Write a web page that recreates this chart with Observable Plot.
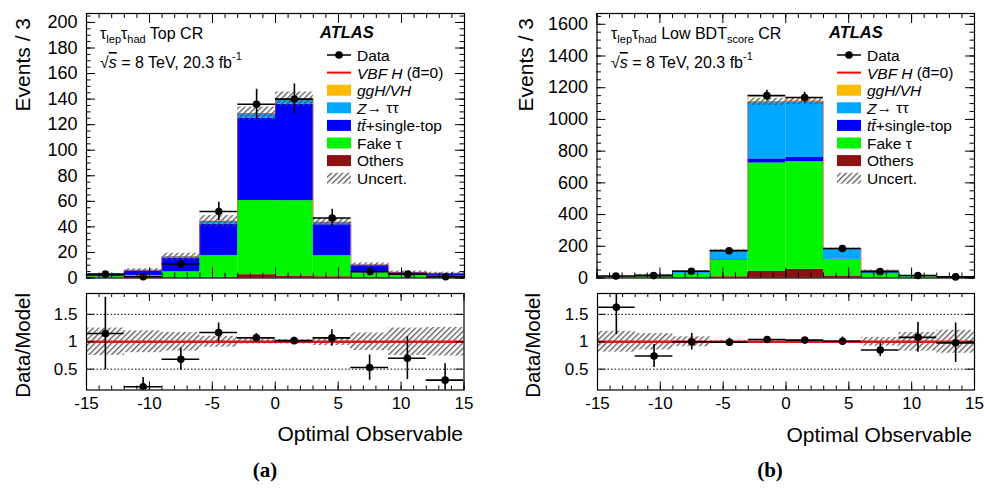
<!DOCTYPE html>
<html>
<head>
<meta charset="utf-8">
<script src="https://cdn.jsdelivr.net/npm/d3@7"></script>
<script src="https://cdn.jsdelivr.net/npm/@observablehq/plot@0.6"></script>
<style>
  html, body { margin: 0; padding: 0; background: #fff; }
  #root { position: relative; width: 984px; height: 490px; overflow: hidden; background: #fff;
          font-family: "Liberation Sans", Arial, Helvetica, sans-serif; }
  .pane { position: absolute; }
  .pane svg { display: block; }
  #overlay { position: absolute; left: 0; top: 0; pointer-events: none; }
</style>
</head>
<body>
<div id="root"></div>
<script>
// ---------- shared binning / styling data ----------
const binEdges = [-15, -12, -9, -6, -3, 0, 3, 6, 9, 12, 15];
const components = ["Others", "Fake τ", "tt̄+single-top", "Z→ττ", "ggH/VH"];
const componentColors = ["#8c1111", "#00f500", "#0000ff", "#00a8ff", "#ffbb00"];
const xMajorTicks = [-15, -10, -5, 0, 5, 10, 15];
const xMinorTicks = [-15,-14,-13,-12,-11,-10,-9,-8,-7,-6,-5,-4,-3,-2,-1,0,1,2,3,4,5,6,7,8,9,10,11,12,13,14,15];
const ratioTicks = [0.5, 1, 1.5];

// ---------- panel (a): tau_lep tau_had Top CR ----------
const othersA = [0.1, 0.2, 0.3, 0.5, 2.6, 1.5, 1.0, 0.3, 0.1, 0.1];
const fakeA   = [0.9, 1.8, 4.5, 17.0, 58.0, 59.0, 16.4, 3.9, 1.9, 1.3];
const topA    = [1.4, 3.6, 10.7, 24.5, 64.4, 75.5, 24.3, 5.5, 2.2, 2.0];
const zttA    = [0.2, 0.4, 1.0, 2.3, 3.5, 3.8, 1.8, 0.5, 0.2, 0.2];
const gghA    = [0.0, 0.0, 0.05, 0.1, 0.2, 0.2, 0.1, 0.0, 0.0, 0.0];
const dataA    = [3, 1, 11, 52, 136, 140, 47, 5, 3, 1];
const dataErrA = [1.7, 1.0, 3.3, 7.2, 11.7, 11.9, 6.9, 2.2, 1.7, 1.0];
const uncertA  = [0.25, 0.20, 0.17, 0.10, 0.04, 0.04, 0.07, 0.16, 0.25, 0.26];
const ratioA    = [1.15, 0.18, 0.68, 1.17, 1.07, 1.02, 1.07, 0.53, 0.70, 0.30];
const ratioErrA = [0.66, 0.17, 0.20, 0.17, 0.08, 0.06, 0.15, 0.23, 0.39, 0.30];
const yMajorA = [0, 20, 40, 60, 80, 100, 120, 140, 160, 180, 200];
const yMinorA = d3.range(0, 207, 5);
const yDomainA = [0, 207];

// ---------- panel (b): tau_lep tau_had Low BDT_score CR ----------
const othersB = [1, 1, 2, 8, 42, 55, 13, 2, 1, 0.5];
const fakeB   = [3, 9, 20, 103, 683, 678, 104, 23, 8, 3.5];
const topB    = [0.5, 1, 2, 4, 26, 27, 3, 2, 1, 0.5];
const zttB    = [3.5, 9, 19, 60, 355, 350, 64, 20, 5, 2.5];
const gghB    = [0, 0, 0, 0.5, 5, 5, 0.5, 0, 0, 0];
const dataB    = [13, 15, 43, 172, 1150, 1138, 186, 40, 16, 7];
const dataErrB = [3.6, 3.9, 6.6, 13.1, 33.9, 33.7, 13.6, 6.3, 4.0, 2.6];
const uncertB  = [0.19, 0.15, 0.09, 0.02, 0.02, 0.02, 0.02, 0.08, 0.17, 0.21];
const ratioB    = [1.63, 0.74, 1.00, 0.99, 1.04, 1.03, 1.01, 0.85, 1.08, 0.98];
const ratioErrB = [0.50, 0.21, 0.15, 0.075, 0.035, 0.035, 0.075, 0.12, 0.27, 0.36];
const yMajorB = [0, 200, 400, 600, 800, 1000, 1200, 1400, 1600];
const yMinorB = d3.range(0, 1668, 50);
const yDomainB = [0, 1668];

const FONT = '"Liberation Sans", Arial, Helvetica, sans-serif';

function binsOf() {
  return binEdges.slice(0, -1).map((lo, i) => ({ i, x1: lo, x2: binEdges[i + 1], xc: (lo + binEdges[i + 1]) / 2 }));
}

function tickMarks(fw, fh, xMajLen, xMinLen, yMaj, yMin, yMajLen, yMinLen) {
  const m = [];
  m.push(Plot.tickX(xMinorTicks, { x: d => d, insetTop: fh - xMinLen, strokeWidth: 1 }));
  m.push(Plot.tickX(xMinorTicks, { x: d => d, insetBottom: fh - xMinLen, strokeWidth: 1 }));
  m.push(Plot.tickX(xMajorTicks, { x: d => d, insetTop: fh - xMajLen, strokeWidth: 1 }));
  m.push(Plot.tickX(xMajorTicks, { x: d => d, insetBottom: fh - xMajLen, strokeWidth: 1 }));
  if (yMin) {
    m.push(Plot.tickY(yMin, { y: d => d, insetRight: fw - yMinLen, strokeWidth: 1 }));
    m.push(Plot.tickY(yMin, { y: d => d, insetLeft: fw - yMinLen, strokeWidth: 1 }));
  }
  m.push(Plot.tickY(yMaj, { y: d => d, insetRight: fw - yMajLen, strokeWidth: 1 }));
  m.push(Plot.tickY(yMaj, { y: d => d, insetLeft: fw - yMajLen, strokeWidth: 1 }));
  return m;
}

function buildMain(cfg) {
  const { comps, data, dataErr, uncert, yDomain, yMajor, yMinor, width, marginLeft, marginRight } = cfg;
  const H = 290, mt = 13, mb = 12.5;
  const fw = width - marginLeft - marginRight, fh = H - mt - mb;
  const bins = binsOf();
  const rows = [];
  components.forEach((c, k) => bins.forEach((b, i) => rows.push({ ...b, comp: c, v: comps[k][i] })));
  const totals = bins.map((b, i) => d3.sum(comps, s => s[i]));
  const band = bins.map((b, i) => ({ ...b, lo: totals[i] * (1 - uncert[i]), hi: totals[i] * (1 + uncert[i]) }));
  const step = [{ x: binEdges[0], y: 0 }];
  bins.forEach((b, i) => { step.push({ x: b.x1, y: totals[i] }, { x: b.x2, y: totals[i] }); });
  step.push({ x: binEdges[binEdges.length - 1], y: 0 });
  const pts = bins.map((b, i) => ({ ...b, v: data[i], e: dataErr[i] }));
  return Plot.plot({
    width, height: H, marginLeft, marginRight, marginTop: mt, marginBottom: mb,
    style: { fontFamily: FONT, background: "transparent", overflow: "visible", color: "black" },
    x: { domain: [-15, 15], axis: null },
    y: { domain: yDomain, axis: null },
    color: { domain: components, range: componentColors },
    marks: [
      Plot.rectY(rows, { x1: "x1", x2: "x2", y: "v", fill: "comp", order: components }),
      Plot.rect(band, { x1: "x1", x2: "x2", y1: "lo", y2: "hi", fill: "url(#hatch)" }),
      Plot.line(step, { x: "x", y: "y", stroke: "#ff3030", strokeWidth: 1, strokeOpacity: 0.55 }),
      Plot.ruleY(pts, { y: "v", x1: "x1", x2: "x2", stroke: "black", strokeWidth: 1.6 }),
      Plot.ruleX(pts, { x: "xc", y1: d => d.v - d.e, y2: d => d.v + d.e, stroke: "black", strokeWidth: 1.6 }),
      Plot.dot(pts, { x: "xc", y: "v", r: 3.8, fill: "black", stroke: "none" }),
      ...tickMarks(fw, fh, 10, 5, yMajor, yMinor, 9, 4.5),
      Plot.axisY({ ticks: yMajor, tickSize: 0, tickPadding: 9, fontSize: 18, label: null, tickFormat: d => String(d) }),
      Plot.frame({ stroke: "black", strokeWidth: 1.2 })
    ]
  });
}

function buildRatio(cfg) {
  const { ratio, ratioErr, uncert, width, marginLeft, marginRight } = cfg;
  const H = 130, mt = 3, mb = 30.5;
  const fw = width - marginLeft - marginRight, fh = H - mt - mb;
  const bins = binsOf();
  const band = bins.map((b, i) => ({ ...b, lo: 1 - uncert[i], hi: 1 + uncert[i] }));
  const pts = bins.map((b, i) => ({ ...b, v: ratio[i], e: ratioErr[i] }));
  return Plot.plot({
    width, height: H, marginLeft, marginRight, marginTop: mt, marginBottom: mb,
    style: { fontFamily: FONT, background: "transparent", overflow: "visible", color: "black" },
    x: { domain: [-15, 15], axis: null },
    y: { domain: [0.12, 1.88], axis: null },
    marks: [
      Plot.rect(band, { x1: "x1", x2: "x2", y1: "lo", y2: "hi", fill: "url(#hatch)" }),
      Plot.ruleY([0.5, 1.5], { y: d => d, stroke: "black", strokeWidth: 1, strokeDasharray: "1.5,2" }),
      Plot.ruleY([1], { y: d => d, stroke: "#e01515", strokeWidth: 2.5 }),
      Plot.ruleY(pts, { y: "v", x1: "x1", x2: "x2", stroke: "black", strokeWidth: 1.6, clip: true }),
      Plot.ruleX(pts, { x: "xc", y1: d => d.v - d.e, y2: d => d.v + d.e, stroke: "black", strokeWidth: 1.6, clip: true }),
      Plot.dot(pts, { x: "xc", y: "v", r: 3.8, fill: "black", stroke: "none", clip: true }),
      ...tickMarks(fw, fh, 8, 4, ratioTicks, null, 8, 4),
      Plot.axisY({ ticks: ratioTicks, tickSize: 0, tickPadding: 9, fontSize: 17, label: null, tickFormat: d => String(d) }),
      Plot.axisX({ ticks: xMajorTicks, tickSize: 0, tickPadding: 7, fontSize: 17, label: null, tickFormat: d => String(d) }),
      Plot.frame({ stroke: "black", strokeWidth: 1.2 })
    ]
  });
}

const root = document.getElementById("root");
function place(node, left, top) {
  const d = document.createElement("div");
  d.className = "pane";
  d.style.left = left + "px";
  d.style.top = top + "px";
  d.appendChild(node);
  root.appendChild(d);
}

place(buildMain({ comps: [othersA, fakeA, topA, zttA, gghA], data: dataA, dataErr: dataErrA, uncert: uncertA,
  yDomain: yDomainA, yMajor: yMajorA, yMinor: yMinorA, width: 480, marginLeft: 86, marginRight: 16 }), 0, 0);
place(buildRatio({ ratio: ratioA, ratioErr: ratioErrA, uncert: uncertA, width: 480, marginLeft: 86, marginRight: 16.5 }), 0, 290);
place(buildMain({ comps: [othersB, fakeB, topB, zttB, gghB], data: dataB, dataErr: dataErrB, uncert: uncertB,
  yDomain: yDomainB, yMajor: yMajorB, yMinor: yMinorB, width: 484, marginLeft: 96.5, marginRight: 10 }), 500, 0);
place(buildRatio({ ratio: ratioB, ratioErr: ratioErrB, uncert: uncertB, width: 484, marginLeft: 97, marginRight: 10 }), 500, 290);

// ---------- overlay: titles, labels, legends ----------
const legendRows = [
  { kind: "data", html: "Data" },
  { kind: "line", color: "#ff0000", html: '<tspan font-style="italic">VBF H</tspan> (d̃=0)' },
  { kind: "box", color: componentColors[4], html: '<tspan font-style="italic">ggH/VH</tspan>' },
  { kind: "box", color: componentColors[3], html: '<tspan font-style="italic">Z</tspan>→ ττ' },
  { kind: "box", color: componentColors[2], html: '<tspan font-style="italic">tt̄</tspan>+single-top' },
  { kind: "box", color: componentColors[1], html: "Fake τ" },
  { kind: "box", color: componentColors[0], html: "Others" },
  { kind: "hatch", html: "Uncert." }
];

function legendSvg(sx, tx) {
  let s = "";
  legendRows.forEach((r, i) => {
    const y = 55 + i * 17.6;
    if (r.kind === "data") {
      s += `<line x1="${sx}" x2="${sx + 24}" y1="${y}" y2="${y}" stroke="black" stroke-width="1.5"/>`;
      s += `<circle cx="${sx + 12}" cy="${y}" r="3.8" fill="black"/>`;
    } else if (r.kind === "line") {
      s += `<line x1="${sx}" x2="${sx + 24}" y1="${y}" y2="${y}" stroke="${r.color}" stroke-width="2"/>`;
    } else if (r.kind === "box") {
      s += `<rect x="${sx}" y="${y - 5.5}" width="24" height="11" fill="${r.color}"/>`;
    } else {
      s += `<rect x="${sx}" y="${y - 5.5}" width="24" height="11" fill="url(#hatch)"/>`;
    }
    s += `<text x="${tx}" y="${y}" dominant-baseline="central" font-size="15.5">${r.html}</text>`;
  });
  return s;
}

const sub = t => `<tspan baseline-shift="sub" font-size="11">${t}</tspan>`;
const sqrtS = `√<tspan font-style="italic" text-decoration="overline">s</tspan> = 8 TeV, 20.3 fb<tspan baseline-shift="super" font-size="11">-1</tspan>`;

const overlay = `
<svg id="overlay" width="984" height="490" xmlns="http://www.w3.org/2000/svg" font-family='${FONT}'>
  <defs>
    <pattern id="hatch" patternUnits="userSpaceOnUse" width="4" height="4" patternTransform="rotate(45)">
      <line x1="0.7" y1="0" x2="0.7" y2="4" stroke="#4a4a4a" stroke-width="1.2"/>
    </pattern>
  </defs>
  <!-- panel a -->
  <text transform="translate(22,18) rotate(-90)" text-anchor="end" dominant-baseline="central" font-size="21">Events / 3</text>
  <text transform="translate(22,293) rotate(-90)" text-anchor="end" dominant-baseline="central" font-size="20.5">Data/Model</text>
  <text x="463" y="433" text-anchor="end" dominant-baseline="central" font-size="21">Optimal Observable</text>
  <text x="265" y="470" text-anchor="middle" dominant-baseline="central" font-size="21" font-weight="bold" font-family='"Liberation Serif","Times New Roman",serif'>(a)</text>
  <text x="100" y="33" dominant-baseline="central" font-size="16">τ${sub("lep")}τ${sub("had")} Top CR</text>
  <text x="100" y="62" dominant-baseline="central" font-size="16">${sqrtS}</text>
  <text x="320" y="32" dominant-baseline="central" font-size="16.5" font-weight="bold" font-style="italic">ATLAS</text>
  ${legendSvg(327, 357)}
  <!-- panel b -->
  <text transform="translate(525,18) rotate(-90)" text-anchor="end" dominant-baseline="central" font-size="21">Events / 3</text>
  <text transform="translate(532,293) rotate(-90)" text-anchor="end" dominant-baseline="central" font-size="20.5">Data/Model</text>
  <text x="972" y="434" text-anchor="end" dominant-baseline="central" font-size="21">Optimal Observable</text>
  <text x="770" y="470" text-anchor="middle" dominant-baseline="central" font-size="21" font-weight="bold" font-family='"Liberation Serif","Times New Roman",serif'>(b)</text>
  <text x="611" y="33" dominant-baseline="central" font-size="16">τ${sub("lep")}τ${sub("had")} Low BDT${sub("score")} CR</text>
  <text x="611" y="62" dominant-baseline="central" font-size="16">${sqrtS}</text>
  <text x="829" y="32" dominant-baseline="central" font-size="16.5" font-weight="bold" font-style="italic">ATLAS</text>
  ${legendSvg(837, 867)}
</svg>`;
root.insertAdjacentHTML("beforeend", overlay);
</script>
</body>
</html>
